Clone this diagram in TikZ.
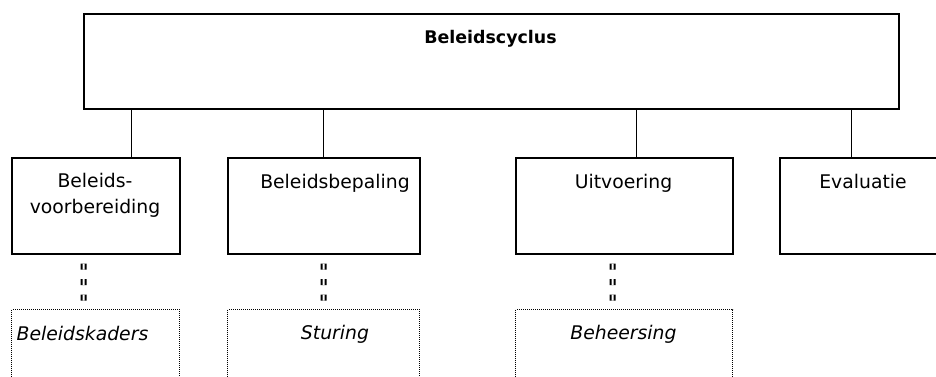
\documentclass[tikz,border=0pt]{standalone}
\usepackage{fontspec}
\setmainfont{DejaVu Sans}
\begin{document}
\begin{tikzpicture}[x=1pt,y=-1pt,
  box/.style={draw,line width=1.5pt,anchor=north west,inner sep=0pt,minimum width=#1},
  box/.default=168pt,
  kader/.style={draw,line width=1.2pt,dash pattern=on 1pt off 1pt,anchor=north west,inner sep=0pt,minimum width=#1,minimum height=80pt},
  kader/.default=168pt,
  txt/.style={anchor=base,inner sep=0pt,font=\fontsize{18.8}{26}\selectfont},
  ktxt/.style={anchor=base,inner sep=0pt,font=\fontsize{18.8}{26}\selectfont\itshape},
  link/.style={line width=1pt},
  dlink/.style={line width=2pt,double distance=2pt,dash pattern=on 6pt off 9.5pt,dash phase=6.5pt}]
\useasboundingbox (0,0) rectangle (936,376);
% top box
\node[box=815pt,minimum height=95pt] (top) at (83,13) {};
\node[anchor=base,inner sep=0pt,font=\fontsize{17.4}{20}\selectfont\bfseries] (toptxt) at (490.5,43) {Beleidscyclus};
% phase boxes
\node[box=168pt,minimum height=96pt] (b1) at (11,157) {};
\node[box=192pt,minimum height=96pt] (b2) at (227,157) {};
\node[box=217pt,minimum height=96pt] (b3) at (515,157) {};
\node[box=168pt,minimum height=96pt] (b4) at (779,157) {};
\node[txt] (t1a) at (95,187) {Beleids-};
\node[txt] (t1b) at (95,213) {voorbereiding};
\node[txt] (t2) at (335,188) {Beleidsbepaling};
\node[txt] (t3) at (623.5,188) {Uitvoering};
\node[txt] (t4) at (863,188) {Evaluatie};
% dotted boxes
\node[kader=168pt] (k1) at (11,309) {};
\node[kader=192pt] (k2) at (227,309) {};
\node[kader=217pt] (k3) at (515,309) {};
\node[ktxt] (kt1) at (82.5,340) {Beleidskaders};
\node[ktxt] (kt2) at (335,339) {Sturing};
\node[ktxt] (kt3) at (623.5,339) {Beheersing};
% connectors from top
\draw[link] ([xshift=36pt]b1.north) -- ([xshift=36pt]b1.north |- top.south);
\draw[link] (b2.north) -- (b2.north |- top.south);
\draw[link] ([xshift=12.5pt]b3.north) -- ([xshift=12.5pt]b3.north |- top.south);
\draw[link] ([xshift=-12pt]b4.north) -- ([xshift=-12pt]b4.north |- top.south);
% double dashed links
\draw[dlink] ([xshift=-12pt]b1.south) -- ([xshift=-12pt]k1.north);
\draw[dlink] (b2.south) -- (k2.north);
\draw[dlink] ([xshift=-11.5pt]b3.south) -- ([xshift=-11.5pt]k3.north);
\end{tikzpicture}
\end{document}
